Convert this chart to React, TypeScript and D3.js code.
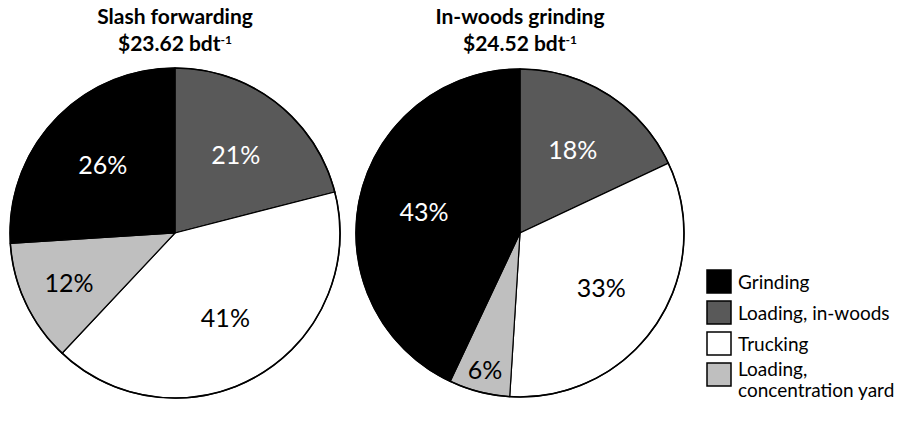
import React from "react";
import * as d3 from "d3";

const categories = ["Loading, in-woods", "Trucking", "Loading, concentration yard", "Grinding"];
const slashValues = [21, 41, 12, 26];
const grindValues = [18, 33, 6, 43];
const pieTitles = ["Slash forwarding", "In-woods grinding"];
const pieCosts = ["$23.62 bdt", "$24.52 bdt"];
const legendOrder = ["Grinding", "Loading, in-woods", "Trucking", "Loading, concentration yard"];
const legendLabels: Record<string, string[]> = {
  "Grinding": ["Grinding"],
  "Loading, in-woods": ["Loading, in-woods"],
  "Trucking": ["Trucking"],
  "Loading, concentration yard": ["Loading,", "concentration yard"],
};

const colors: Record<string, string> = {
  "Grinding": "#000000",
  "Loading, in-woods": "#595959",
  "Trucking": "#ffffff",
  "Loading, concentration yard": "#bfbfbf",
};
const textColors: Record<string, string> = {
  "Grinding": "#ffffff",
  "Loading, in-woods": "#ffffff",
  "Trucking": "#000000",
  "Loading, concentration yard": "#000000",
};

const FONT = "Lato, 'Open Sans', sans-serif";

function Pie({ values, cx, cy, r, title, cost }: { values: number[]; cx: number; cy: number; r: number; title: string; cost: string }) {
  const data = categories.map((c, i) => ({ cat: c, value: values[i] }));
  const pie = d3.pie<{ cat: string; value: number }>().value((d) => d.value).sort(null);
  const arcs = pie(data);
  const arc = d3.arc<d3.PieArcDatum<{ cat: string; value: number }>>().innerRadius(0).outerRadius(r);
  return (
    <g>
      <text x={cx} y={24} textAnchor="middle" fontFamily={FONT} fontWeight="bold" fontSize={21}>{title}</text>
      <text x={cx} y={51} textAnchor="middle" fontFamily={FONT} fontWeight="bold" fontSize={21}>
        {cost}
        <tspan fontSize={12} dy={-7}>-1</tspan>
      </text>
      <g transform={`translate(${cx},${cy})`}>
        {arcs.map((a, i) => (
          <path key={i} d={arc(a) || ""} fill={colors[a.data.cat]} stroke="#000" strokeWidth={1.2} />
        ))}
        <circle r={r} fill="none" stroke="#000" strokeWidth={1.6} />
        {arcs.map((a, i) => {
          const mid = (a.startAngle + a.endAngle) / 2;
          const frac = a.data.value < 10 ? 0.86 : a.data.value < 15 ? 0.71 : 0.6;
          const lr = r * frac;
          const x = Math.sin(mid) * lr;
          const y = -Math.cos(mid) * lr;
          return (
            <text key={"t" + i} x={x} y={y} dy="0.36em" textAnchor="middle" fontFamily={FONT} fontSize={25} fill={textColors[a.data.cat]}>
              {a.data.value}%
            </text>
          );
        })}
      </g>
    </g>
  );
}

export default function App() {
  const W = 908, H = 424;
  const r = 165;
  const cy = 233;
  const legendX = 707;
  const legendY0 = 270;
  const legendStep = 31;
  return (
    <svg width={W} height={H} style={{ position: "absolute", left: 0, top: 0, background: "#fff" }}>
      <rect width={W} height={H} fill="#fff" />
      <Pie values={slashValues} cx={175} cy={cy} r={r} title={pieTitles[0]} cost={pieCosts[0]} />
      <Pie values={grindValues} cx={520} cy={cy} r={164} title={pieTitles[1]} cost={pieCosts[1]} />
      <g>
        {legendOrder.map((c, i) => {
          const y = legendY0 + i * legendStep;
          const lines = legendLabels[c];
          return (
            <g key={c}>
              <rect x={legendX} y={y} width={24} height={23} fill={colors[c]} stroke="#000" strokeWidth={1.5} />
              {lines.map((ln, j) => (
                <text key={j} x={legendX + 31} y={y + 19 + (lines.length > 1 ? -6 + j * 21 : 0)} fontFamily={FONT} fontSize={19} fill="#000">
                  {ln}
                </text>
              ))}
            </g>
          );
        })}
      </g>
    </svg>
  );
}
